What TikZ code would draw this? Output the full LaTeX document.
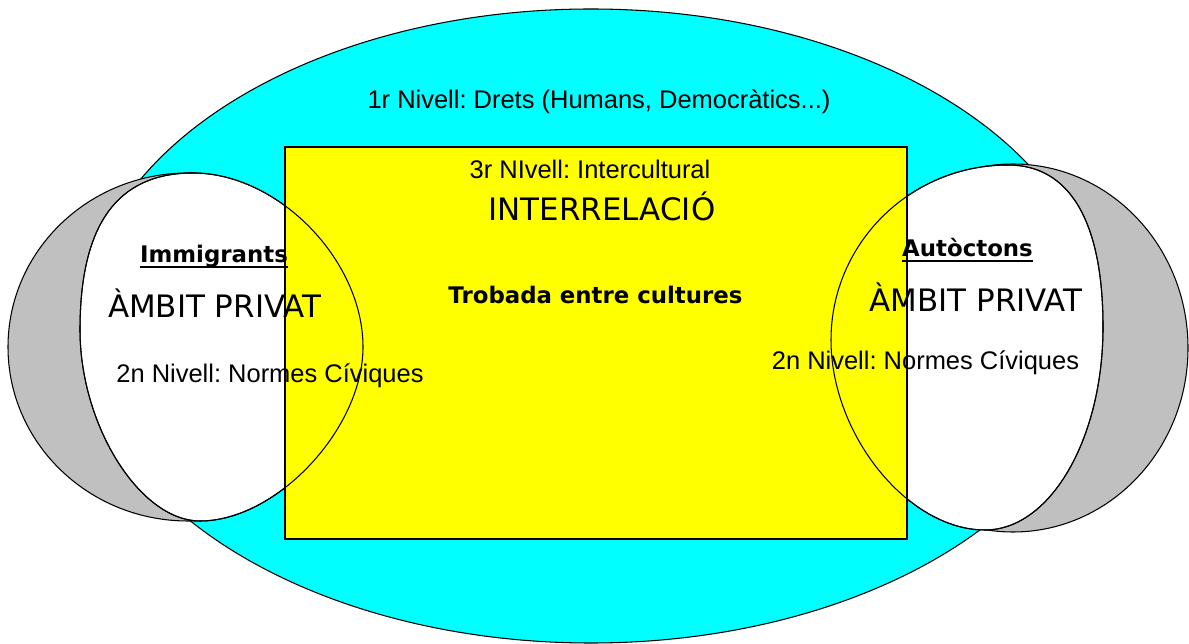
\documentclass[tikz,border=0pt]{standalone}
\usepackage{fontspec}
\newfontfamily\arialfont{Liberation Sans}
\newfontfamily\tahomafont{DejaVu Sans}
\definecolor{aqua}{RGB}{0,255,255}
\definecolor{lemon}{RGB}{255,255,0}
\definecolor{moon}{RGB}{192,192,192}
\newsavebox\ulbox
\newcommand{\ulword}[1]{\sbox\ulbox{#1}\rlap{\rule[-2.6pt]{\wd\ulbox}{1.1pt}}\usebox\ulbox}
\frenchspacing

\begin{document}
\begin{tikzpicture}[
  x=0.02cm,y=-0.02cm,
  zone/.style={draw=black,line width=0.6pt},
  level/.style={font=\arialfont\fontsize{14.5}{17}\selectfont,anchor=base,inner sep=0pt},
  heading/.style={font=\tahomafont\fontsize{17.6}{21}\selectfont,anchor=base,inner sep=0pt},
  group/.style={font=\tahomafont\bfseries\fontsize{13}{16}\selectfont,anchor=base,inner sep=0pt},
  homeleft/.style={insert path={(80,330) .. controls (80,224.8) and (117,173) .. (193,173)
      .. controls (278,173) and (363,260) .. (363,347)
      .. controls (363,428.8) and (276.6,521) .. (200,521)
      .. controls (140,521) and (80,425.5) .. (80,330) -- cycle}},
  homeright/.style={insert path={(1008,165) .. controls (1069.8,165) and (1103,221.7) .. (1103,327)
      .. controls (1103,439) and (1050.1,530) .. (985,530)
      .. controls (908,530) and (831,435) .. (831,340)
      .. controls (831,243.4) and (910.3,165) .. (1008,165) -- cycle}}]

  \useasboundingbox (0,0) rectangle (1189,644);

  % Draw the areas, back to front
  \filldraw[zone,fill=aqua] (591,326) ellipse [x radius=508,y radius=317];
  % grey crescents, only their outer side
  \begin{scope}
    \clip (0,0) rectangle (200,644);
    \filldraw[zone,fill=moon] (188,347) ellipse [x radius=180,y radius=174];
  \end{scope}
  \begin{scope}
    \clip (985,0) rectangle (1189,644);
    \filldraw[zone,fill=moon] (1013,348) ellipse [x radius=175,y radius=184];
  \end{scope}
  \filldraw[zone,fill=white,homeleft];
  \filldraw[zone,fill=white,homeright];
  \filldraw[zone,fill=lemon] (285,147) rectangle (907,539);
  % circle outlines show over the yellow box
  \draw[zone,homeleft];
  \draw[zone,homeright];

  % Place the labels
  \node[level] (rights) at (599,109) {1r Nivell: Drets (Humans, Democràtics...)};
  \node[level] (intercult) at (590,179) {3r NIvell: Intercultural};
  \node[heading] (interrel) at (602,221) {INTERRELACIÓ};
  \node[group] (meeting) at (595.5,304) {Trobada entre cultures};

  \node[group] (immig) at (214,263) {\ulword{Immigrants}};
  \node[heading] (privL) at (214.5,318) {ÀMBIT PRIVAT};
  \node[level] (civicL) at (270,383) {2n Nivell: Normes Cíviques};

  \node[group] (autoc) at (967.5,257) {\ulword{Autòctons}};
  \node[heading] (privR) at (976,312) {ÀMBIT PRIVAT};
  \node[level] (civicR) at (925.5,370) {2n Nivell: Normes Cíviques};
\end{tikzpicture}
\end{document}
